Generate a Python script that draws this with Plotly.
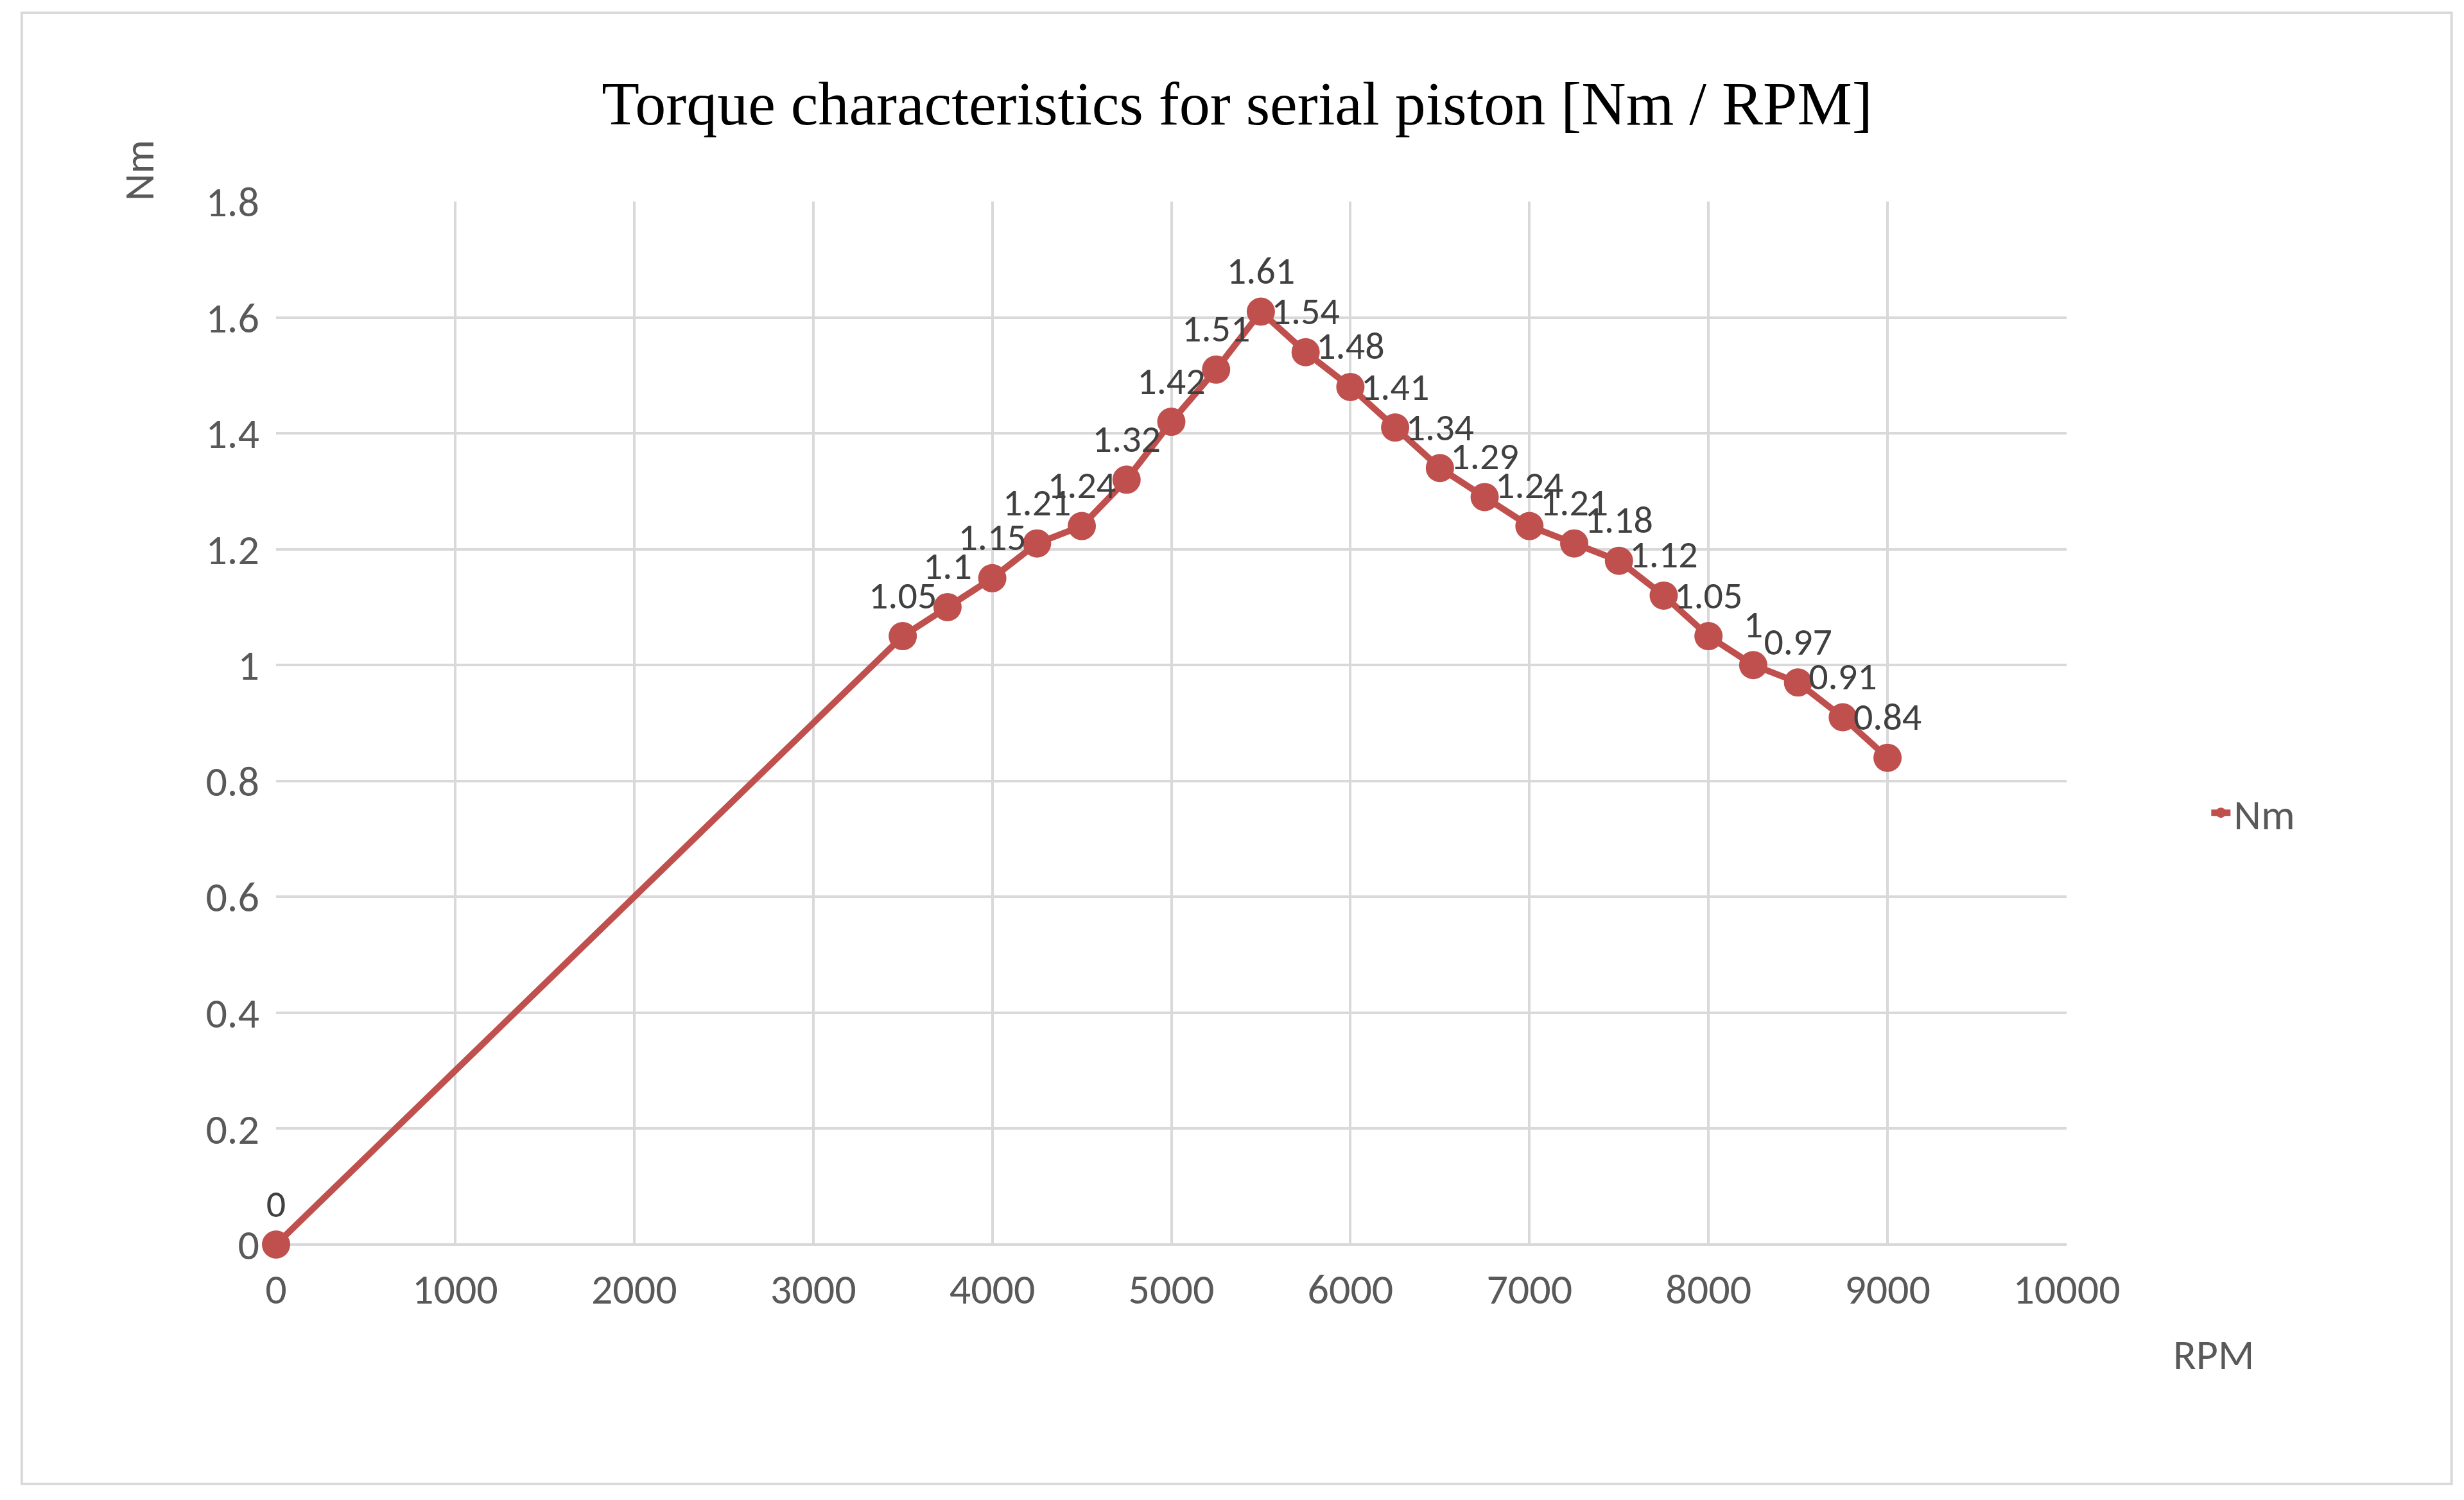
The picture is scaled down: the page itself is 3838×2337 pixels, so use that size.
import plotly.graph_objects as go

rpm = [0, 3500, 3750, 4000, 4250, 4500, 4750, 5000, 5250, 5500, 5750, 6000,
       6250, 6500, 6750, 7000, 7250, 7500, 7750, 8000, 8250, 8500, 8750, 9000]
nm = [0, 1.05, 1.1, 1.15, 1.21, 1.24, 1.32, 1.42, 1.51, 1.61, 1.54, 1.48,
      1.41, 1.34, 1.29, 1.24, 1.21, 1.18, 1.12, 1.05, 1, 0.97, 0.91, 0.84]
labels = [str(v) for v in nm]

red = "#C0504D"
grid = "#D9D9D9"
tickfont = dict(family="Calibri, Carlito, Liberation Sans, sans-serif", size=66, color="#595959")

fig = go.Figure(go.Scatter(
    x=rpm, y=nm, name="Nm", mode="lines+markers+text",
    line=dict(color=red, width=10),
    marker=dict(color=red, size=44),
    text=labels, textposition="top center",
    textfont=dict(family="Calibri, Carlito, Liberation Sans, sans-serif", size=60, color="#404040"),
    cliponaxis=False,
))

fig.update_layout(
    width=3838, height=2337,
    paper_bgcolor="white", plot_bgcolor="white",
    margin=dict(l=422, r=627, t=306, b=406),
    title=dict(text="Torque characteristics for serial piston [Nm / RPM]",
               x=0.5, xanchor="center", y=1 - 152 / 2337, yanchor="middle",
               font=dict(family="Liberation Serif, Times New Roman, serif", size=96, color="black")),
    showlegend=True,
    legend=dict(x=1.079, y=0.414, xanchor="left", yanchor="middle",
                font=tickfont, bgcolor="rgba(0,0,0,0)"),
    xaxis=dict(range=[0, 10000], dtick=1000, tickformat="d", showgrid=True, gridcolor=grid, gridwidth=4,
               zeroline=False, showline=False, tickfont=tickfont, ticks="", ticklabelstandoff=25),
    yaxis=dict(range=[0, 1.8], dtick=0.2, showgrid=True, gridcolor=grid, gridwidth=4,
               zeroline=False, showline=False, tickfont=tickfont, ticks="", ticklabelstandoff=25),
    shapes=[
        dict(type="rect", xref="paper", yref="paper", x0=-0.142, x1=1.215, y0=-0.2295, y1=1.181,
             line=dict(color=grid, width=4), fillcolor="rgba(0,0,0,0)", layer="below"),
        dict(type="line", xref="paper", yref="paper", x0=0, x1=1, y0=0, y1=0,
             line=dict(color=grid, width=4), layer="below"),
    ],
    annotations=[
        dict(text="Nm", xref="paper", yref="paper", x=(68 * 2.451 - 422) / 2789,
             y=(1931 - 85 * 2.451) / 1625, showarrow=False, textangle=-90, font=tickfont),
        dict(text="RPM", xref="paper", yref="paper", x=(1430 * 2.451 - 422) / 2789,
             y=(1931 - 875 * 2.451) / 1625, showarrow=False, font=tickfont),
    ],
)

fig.write_html("out.html")
